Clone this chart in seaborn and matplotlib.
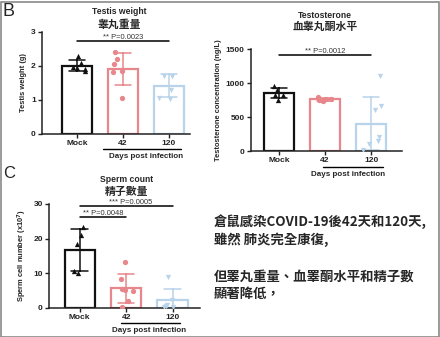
import numpy as np
import pandas as pd
import matplotlib
matplotlib.use("Agg")
import matplotlib.pyplot as plt
import matplotlib.transforms as mtransforms
from matplotlib.patches import Rectangle
import seaborn as sns

sns.set_theme(style="ticks")
plt.rcParams['font.family'] = ['Liberation Sans', 'Noto Sans CJK TC', 'DejaVu Sans']
plt.rcParams['font.weight'] = 'bold'
plt.rcParams['axes.labelweight'] = 'bold'

# ---------------- data ----------------
categories = ["Mock", "42", "120"]
colors = ["#111111", "#e8878b", "#b9d3ea"]
markers = ["^", "o", "v"]

testis_mock = [2.28, 2.10, 1.97, 1.94, 1.92, 1.84]
testis_42 = [2.40, 2.22, 2.07, 1.84, 1.83, 1.07]
testis_120 = [1.72, 1.71, 1.70, 1.30, 1.05, 1.04]

testo_mock = [950, 890, 830, 820, 750]
testo_42 = [790, 770, 760, 755, 750, 730]
testo_120 = [1100, 660, 600, 200, 140, 110, 20]

sperm_mock = [23.5, 21.0, 18.6, 10.6, 10.0]
sperm_42 = [13.2, 8.3, 5.6, 5.3, 5.0, 2.1, 0.4]
sperm_120 = [8.9, 2.2, 1.0, 0.5, 0.4, 0.3]

testis_title = ["Testis weight", "睾丸重量"]
testo_title = ["Testosterone", "血睾丸酮水平"]
sperm_title = ["Sperm count", "精子數量"]
xlabel_text = "Days post infection"

note_lines = ["倉鼠感染COVID-19後42天和120天,", "雖然 肺炎完全康復,",
              "但睪丸重量、血睪酮水平和精子數", "顯著降低，"]

W, H = 440, 337
fig = plt.figure(figsize=(W / 100, H / 100), dpi=100)


def rect(l, t, r, b):
    return [l / W, 1 - b / H, (r - l) / W, (b - t) / H]


def make_df(groups):
    rows = []
    for cat, vals in zip(categories, groups):
        for v in vals:
            rows.append({"group": cat, "value": v})
    return pd.DataFrame(rows)


np.random.seed(3)


def panel(r, groups, xlim, ylim, yticks, ylabel, titles, title_y, line_span,
          sigs, label_off=(15, 23)):
    ax = fig.add_axes(rect(*r))
    df = make_df(groups)
    for cat, c, m in zip(categories, colors, markers):
        sub = df[df.group == cat]
        sns.barplot(data=sub, x="group", y="value", order=categories, color=c,
                    fill=False, errorbar="sd", capsize=0.36, width=0.65,
                    linewidth=1.6, edgecolor=c,
                    err_kws={"color": c, "linewidth": 1.1}, ax=ax)
    for cat, c, m in zip(categories, colors, markers):
        sub = df[df.group == cat]
        sns.stripplot(data=sub, x="group", y="value", order=categories, color=c,
                      marker=m, size=3.8, jitter=0.22, linewidth=0, ax=ax, zorder=5)
    ax.set_xlim(*xlim)
    ax.set_ylim(*ylim)
    ax.set_yticks(yticks)
    ax.set_xlabel("")
    ax.set_ylabel(ylabel, fontsize=5.4, labelpad=3)
    sns.despine(ax=ax)
    for s in ["left", "bottom"]:
        ax.spines[s].set_linewidth(1.1)
        ax.spines[s].set_color("#222222")
    ax.tick_params(axis="both", length=3, width=1, labelsize=6, pad=1.5,
                   colors="#222222")
    for lab in ax.get_xticklabels() + ax.get_yticklabels():
        lab.set_fontweight("bold")
    # significance lines
    for x0, x1, yv, txt, tx in sigs:
        ax.plot([x0, x1], [yv, yv], color="black", lw=1.1, clip_on=False)
        ax.text(tx, yv, txt, ha="center", va="bottom", fontsize=5.4,
                fontweight="normal", color="#333333")
    # days post infection
    trans = mtransforms.blended_transform_factory(ax.transData, ax.transAxes)
    h = r[3] - r[1]
    ax.plot(line_span, [-label_off[0] / h] * 2, color="black", lw=1.0,
            transform=trans, clip_on=False)
    ax.text(1.5, -label_off[1] / h, xlabel_text, ha="center", va="center",
            fontsize=5.8, fontweight="bold", transform=trans)
    # titles
    fig.text((title_y[2]) / W, 1 - title_y[0] / H, titles[0], ha="center",
             va="center", fontsize=6.2, fontweight="bold")
    fig.text((title_y[2]) / W, 1 - title_y[1] / H, titles[1], ha="center",
             va="center", fontsize=7.8, fontweight="bold",
             family=["Noto Sans CJK TC", "DejaVu Sans"])
    return ax


# Panel B left
panel((42, 32, 190, 134), [testis_mock, testis_42, testis_120],
      (-0.76, 2.46), (0, 3), [0, 1, 2, 3], "Testis weight (g)",
      testis_title, (12, 25, 119), (0.56, 2.27),
      [(0, 2, 2.73, "** P=0.0023", 1.0)])

# Panel B right
panel((251, 49, 402, 151), [testo_mock, testo_42, testo_120],
      (-0.61, 2.67), (0, 1500), [0, 500, 1000, 1500],
      "Testosterone concentration (ng/L)",
      testo_title, (15, 27, 325), (0.96, 2.26),
      [(0, 2, 1411, "** P=0.0012", 1.0)], label_off=(16, 23))

# Panel C
panel((49, 204, 200, 308), [sperm_mock, sperm_42, sperm_120],
      (-0.66, 2.59), (0, 30), [0, 10, 20, 30],
      "Sperm cell number (x10$^7$)",
      sperm_title, (179, 192, 127), (0.88, 2.17),
      [(0, 2, 29.3, "*** P=0.0005", 1.1), (0, 1, 26.2, "** P=0.0048", 0.5)])

# panel letters
fig.text(3 / W, 1 - 12 / H, "B", fontsize=13, fontweight="normal", va="center")
fig.text(3 / W, 1 - 173 / H, "C", fontsize=12, fontweight="normal", va="center")

# notes
ys = [222, 240, 277, 294]
for line, yy in zip(note_lines, ys):
    fig.text(214 / W, 1 - yy / H, line, fontsize=9.6, fontweight="bold",
             va="center", ha="left", family=["Noto Sans CJK TC", "DejaVu Sans"])

# frame
fig.patches.append(Rectangle((0.5 / W, 0.5 / H), (W - 2) / W, (H - 2) / H,
                             transform=fig.transFigure, fill=False,
                             edgecolor="#8a8a8a", lw=1.2))

fig.savefig("out.png", dpi=100, facecolor="white")
